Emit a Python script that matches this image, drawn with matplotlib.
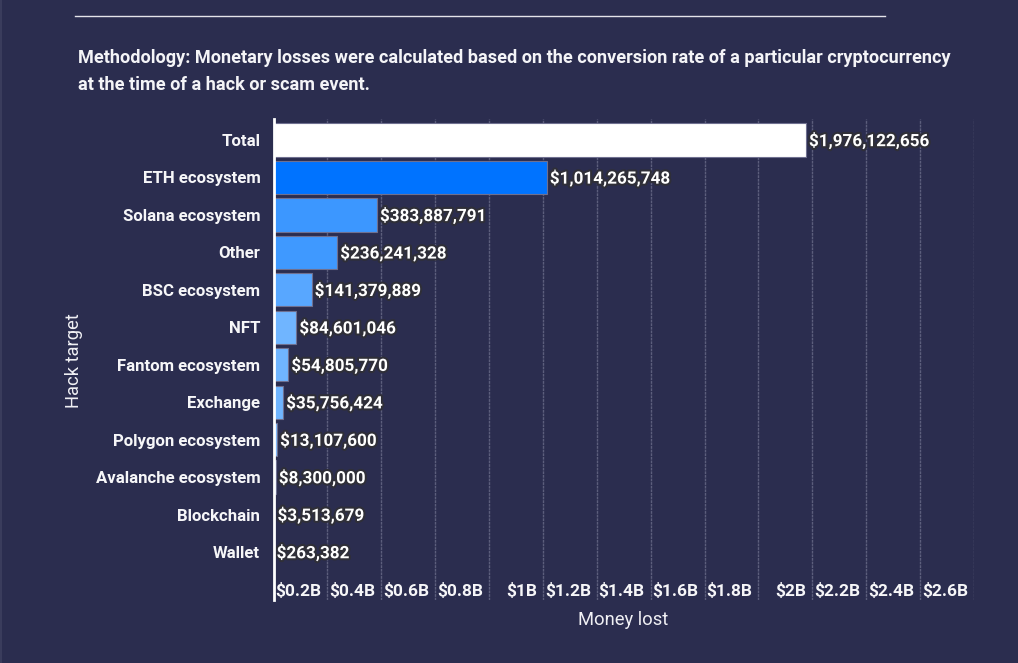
import matplotlib
matplotlib.use('Agg')
import matplotlib.pyplot as plt
from matplotlib.lines import Line2D
from matplotlib.patches import Rectangle
from matplotlib.transforms import ScaledTranslation
import matplotlib.patheffects as pe

plt.rcParams['font.family'] = ['Roboto', 'DejaVu Sans']

# Data
targets = ['Total', 'ETH ecosystem', 'Solana ecosystem', 'Other', 'BSC ecosystem', 'NFT',
           'Fantom ecosystem', 'Exchange', 'Polygon ecosystem', 'Avalanche ecosystem',
           'Blockchain', 'Wallet']
losses = [1976122656, 1014265748, 383887791, 236241328, 141379889, 84601046,
          54805770, 35756424, 13107600, 8300000, 3513679, 263382]
bar_colors = ['#ffffff', '#0073ff', '#3c97ff', '#3f99ff', '#58a7ff', '#70b5ff',
              '#70b5ff', '#70b5ff', '#80bcff', '#80bcff', '#9cc9ff', '#ffffff']
tick_values = [0.2e9, 0.4e9, 0.6e9, 0.8e9, 1e9, 1.2e9, 1.4e9, 1.6e9, 1.8e9, 2e9, 2.2e9, 2.4e9, 2.6e9]
tick_labels = ['$0.2B', '$0.4B', '$0.6B', '$0.8B', '$1B', '$1.2B', '$1.4B', '$1.6B', '$1.8B',
               '$2B', '$2.2B', '$2.4B', '$2.6B']

BG = '#2b2d4f'
W, H = 1018, 663

fig = plt.figure(figsize=(W / 100, H / 100), dpi=100, facecolor=BG)

# axes box in pixels: x 273.5-974, y 119-600
ax = fig.add_axes([273.5 / W, 1 - 600 / H, (974 - 273.5) / W, (600 - 119) / H], facecolor='none')

ax.barh(range(len(targets)), losses, height=0.89, color=bar_colors,
        edgecolor='#6f7090', linewidth=0.8, zorder=3)

ax.set_xlim(0, 2.6e9)
ax.set_ylim(12.28, -0.56)

halo = [pe.withStroke(linewidth=3, foreground='#2f2f38')]
for i, val in enumerate(losses):
    ax.annotate(f'${val:,}', (val, i), xytext=(2.2, -0.5), textcoords='offset points',
                color='white', fontsize=12.3, fontweight='bold', va='center', ha='left',
                path_effects=halo, zorder=5)

ax.set_yticks(range(len(targets)))
ax.set_yticklabels(targets, color='#f6f6f8', fontsize=12.1, fontweight='bold')
ax.tick_params(axis='y', length=0, pad=9.5)

ax.set_xticks(tick_values)
ax.set_xticklabels(tick_labels, color='#f6f6f8', fontsize=12.5, fontweight='bold', ha='right')
ax.tick_params(axis='x', length=0, pad=-12.5)
shift = ScaledTranslation(-6 / 100, 0, fig.dpi_scale_trans)
for lab in ax.get_xticklabels():
    lab.set_transform(lab.get_transform() + shift)

ax.xaxis.grid(True, color='#5c5e7c', linewidth=1, linestyle=(0, (2, 0.6)), zorder=1)
ax.set_axisbelow(True)
for side in ['top', 'right', 'bottom']:
    ax.spines[side].set_visible(False)
ax.spines['left'].set_color('white')
ax.spines['left'].set_linewidth(2)
ax.spines['left'].set_zorder(6)

fig.text(623.5 / W, 1 - 620 / H, 'Money lost', color='#f0f0f4', fontsize=13.2,
         ha='center', va='center')
fig.text(74 / W, 1 - 361 / H, 'Hack target', color='#f0f0f4', fontsize=13.2,
         ha='center', va='center', rotation=90)

# methodology note and the rule above it
fig.text(78 / W, 1 - 58 / H,
         'Methodology: Monetary losses were calculated based on the conversion rate of a particular cryptocurrency',
         color='#f4f4f7', fontsize=13.1, fontweight='bold', va='center')
fig.text(78 / W, 1 - 85 / H, 'at the time of a hack or scam event.',
         color='#f4f4f7', fontsize=13.1, fontweight='bold', va='center')
fig.add_artist(Line2D([75 / W, 885 / W], [1 - 15.5 / H, 1 - 15.5 / H], color='#e4e4ea', linewidth=1))
fig.add_artist(Rectangle((0, 0), 2 / W, 1, transform=fig.transFigure, facecolor='#3a3c5c', edgecolor='none'))

fig.savefig('out.png', dpi=100, facecolor=BG)
